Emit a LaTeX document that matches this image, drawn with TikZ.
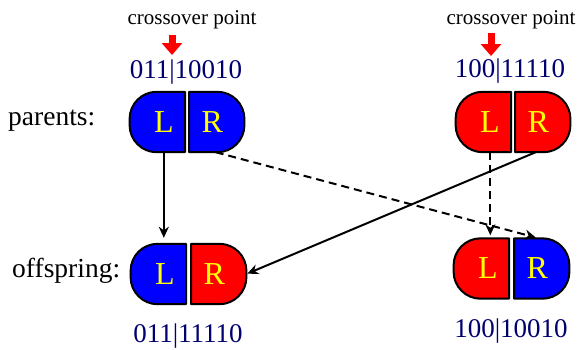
\documentclass[tikz,border=0pt]{standalone}
\usepackage{fontspec}
\setmainfont{Liberation Serif}
\usetikzlibrary{arrows.meta,calc,backgrounds}
\definecolor{navy}{RGB}{0,0,110}
\definecolor{pblue}{RGB}{0,0,255}
\definecolor{pred}{RGB}{255,0,0}
\definecolor{pyellow}{RGB}{255,255,0}
\tikzset{
  lettr/.style={font=\fontsize{32}{32}\selectfont, text=pyellow, inner sep=0pt},
  half/.style={rectangle, minimum height=60pt, minimum width=55pt, inner sep=0pt},
  lhalf/.style={half, label={[lettr, xshift=6.5pt]center:#1}},
  rhalf/.style={half, label={[lettr, xshift=-4.5pt]center:#1}},
  halfline/.style={draw=black, line width=2pt, line join=round},
  bits/.style={font=\fontsize{27}{27}\selectfont, text=navy, inner sep=0pt, anchor=base},
  lbl/.style={font=\fontsize{27.5}{27}\selectfont, inner sep=0pt, anchor=base west},
  xlbl/.style={font=\fontsize{21}{21}\selectfont, inner sep=0pt, anchor=base},
  conn/.style={line width=2pt, -{Stealth[length=11pt,width=10pt,inset=3.5pt]}},
  dconn/.style={conn, dash pattern=on 8pt off 5pt},
  xarrow/.style={line width=7pt, pred, -{Triangle[length=12pt,width=20pt]}}
}
\newcommand\lshape[2]{\draw[halfline, fill=#2] (#1.north east) -- ([xshift=27pt]#1.north west)
  arc[start angle=90, end angle=180, radius=27pt] -- ([yshift=27pt]#1.south west)
  arc[start angle=180, end angle=270, radius=27pt] -- (#1.south east) -- cycle;}
\newcommand\rshape[2]{\draw[halfline, fill=#2] (#1.north west) -- ([xshift=-27pt]#1.north east)
  arc[start angle=90, end angle=0, radius=27pt] -- ([yshift=27pt]#1.south east)
  arc[start angle=0, end angle=-90, radius=27pt] -- (#1.south west) -- cycle;}
\begin{document}
\begin{tikzpicture}[x=1pt,y=-1pt]
\useasboundingbox (0,0) rectangle (577,349);

% labels
\node[lbl] (parents) at (8,125) {parents:};
\node[lbl] (offspring) at (12,277) {offspring:};

% crossover labels and arrows
\node[xlbl] (xo1) at (192,24) {crossover point};
\node[xlbl] (xo2) at (511,24) {crossover point};
\coordinate (x1s) at (172,35);
\coordinate (x1e) at (172,55);
\coordinate (x2s) at (491,33);
\coordinate (x2e) at (491,56);
\draw[xarrow] (x1s) -- (x1e);
\draw[xarrow] (x2s) -- (x2e);

% bit strings
\node[bits] (b1) at (186,78) {011|10010};
\node[bits] (b2) at (510,77) {100|11110};
\node[bits] (b3) at (188,342) {011|11110};
\node[bits] (b4) at (511,337) {100|10010};

% parents
\node[lhalf=L, anchor=east] (P1L) at (185,122) {};
\node[rhalf=R, anchor=west] (P1R) at (189,122) {};
\node[lhalf=L, anchor=east] (P2L) at (511,122) {};
\node[rhalf=R, anchor=west] (P2R) at (515,122) {};

% offspring
\node[lhalf=L, anchor=east] (O1L) at (186,274) {};
\node[rhalf=R, anchor=west] (O1R) at (191,274) {};
\node[lhalf=L, anchor=east] (O2L) at (509,268.5) {};
\node[rhalf=R, anchor=west] (O2R) at (514,268.5) {};

\begin{pgfonlayer}{background}
  \lshape{P1L}{pblue} \rshape{P1R}{pblue}
  \lshape{P2L}{pred}  \rshape{P2R}{pred}
  \lshape{O1L}{pblue} \rshape{O1R}{pred}
  \lshape{O2L}{pred}  \rshape{O2R}{pblue}
\end{pgfonlayer}

% connectors
\draw[conn, shorten >=6pt] ([xshift=6.5pt]P1L.south) coordinate (a1) -- (a1 |- O1L.north);
\draw[conn, shorten >=1pt] ([xshift=-7pt]P2R.south) -- (O1R.east);
\draw[dconn, shorten >=3pt] ([xshift=-1pt]P1R.south) -- ([xshift=-3pt]O2R.north);
\draw[dconn, shorten >=3pt] ([xshift=7pt]P2L.south) coordinate (a4) -- (a4 |- O2L.north);
\end{tikzpicture}
\end{document}
